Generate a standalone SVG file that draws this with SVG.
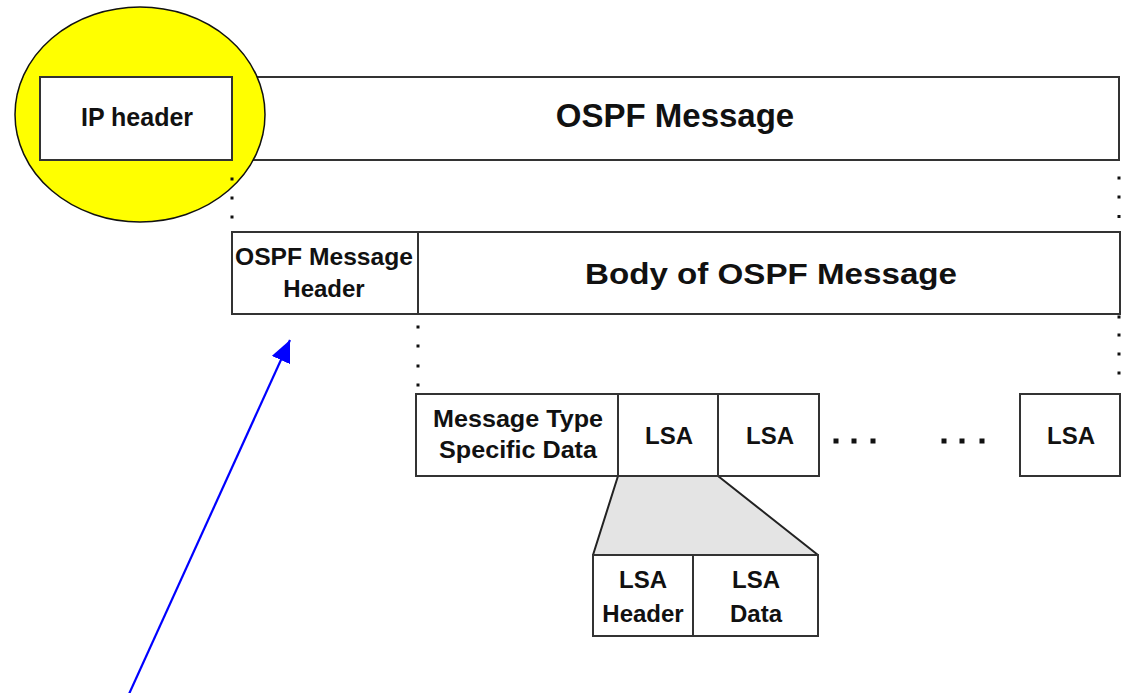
<svg xmlns="http://www.w3.org/2000/svg" width="1122" height="693" viewBox="0 0 1122 693">
  <style>
    .box { fill: #ffffff; stroke: #333333; stroke-width: 2; }
    .lbl { font-family: "Liberation Sans", Arial, sans-serif; font-weight: bold; fill: #111111; text-anchor: middle; }
    .dot { fill: #111111; }
  </style>
  <defs>
    <marker id="arrowhead" viewBox="0 0 22 20" refX="22" refY="10" markerWidth="22" markerHeight="20" markerUnits="userSpaceOnUse" orient="auto">
      <path d="M0,0 L22,10 L0,20 Z" fill="#0000ff"/>
    </marker>
  </defs>
  <rect width="1122" height="693" fill="#ffffff"/>

  <!-- OSPF message (outer packet) -->
  <g id="ospf-message">
    <rect class="box" x="232" y="77" width="887" height="83"/>
    <text class="lbl" x="675" y="127" font-size="33">OSPF Message</text>
  </g>

  <!-- highlight around the IP header -->
  <g id="highlight">
    <ellipse cx="140" cy="114.5" rx="125" ry="107.5" fill="#ffff00" stroke="#111111" stroke-width="1.5"/>
  </g>

  <g id="ip-header">
    <rect class="box" x="40" y="77" width="192" height="83"/>
    <text class="lbl" x="137" y="126" font-size="25">IP header</text>
  </g>

  <!-- second level: header + body -->
  <g id="ospf-header">
    <rect class="box" x="232" y="232" width="186" height="82"/>
    <text class="lbl" x="324" y="265" font-size="24" textLength="178" lengthAdjust="spacingAndGlyphs">OSPF Message</text>
    <text class="lbl" x="324" y="297" font-size="24">Header</text>
  </g>
  <g id="ospf-body">
    <rect class="box" x="418" y="232" width="702" height="82"/>
    <text class="lbl" x="771" y="284" font-size="29" textLength="372" lengthAdjust="spacingAndGlyphs">Body of OSPF Message</text>
  </g>

  <!-- third level: body contents -->
  <g id="type-data">
    <rect class="box" x="416" y="394" width="202" height="82"/>
    <text class="lbl" x="518" y="427" font-size="24" textLength="170" lengthAdjust="spacingAndGlyphs">Message Type</text>
    <text class="lbl" x="518" y="458" font-size="24" textLength="158" lengthAdjust="spacingAndGlyphs">Specific Data</text>
  </g>

  <!-- expansion of the first LSA -->
  <g id="lsa-expansion">
    <polygon points="618,476 718,476 818,555 593,555" fill="#e4e4e4" stroke="#222222" stroke-width="2" stroke-linejoin="round"/>
  </g>

  <g id="lsa-1">
    <rect class="box" x="618" y="394" width="100" height="82"/>
    <text class="lbl" x="669" y="444" font-size="24">LSA</text>
  </g>
  <g id="lsa-2">
    <rect class="box" x="718" y="394" width="101" height="82"/>
    <text class="lbl" x="770" y="444" font-size="24">LSA</text>
  </g>
  <g id="lsa-n">
    <rect class="box" x="1020" y="394" width="100" height="82"/>
    <text class="lbl" x="1071" y="444" font-size="24">LSA</text>
  </g>

  <g id="lsa-header">
    <rect class="box" x="593" y="555" width="100" height="81"/>
    <text class="lbl" x="643" y="588" font-size="24">LSA</text>
    <text class="lbl" x="643" y="622" font-size="24">Header</text>
  </g>
  <g id="lsa-data">
    <rect class="box" x="693" y="555" width="125" height="81"/>
    <text class="lbl" x="756" y="588" font-size="24">LSA</text>
    <text class="lbl" x="756" y="622" font-size="24">Data</text>
  </g>

  <!-- dotted guides and ellipses -->
  <g id="dots">
    <rect class="dot" x="230.5" y="177.5" width="3" height="3"/>
    <rect class="dot" x="230.5" y="196.5" width="3" height="3"/>
    <rect class="dot" x="230.5" y="215.5" width="3" height="3"/>
    <rect class="dot" x="1117.5" y="176.5" width="3" height="3"/>
    <rect class="dot" x="1117.5" y="195.5" width="3" height="3"/>
    <rect class="dot" x="1117.5" y="215" width="3" height="3"/>
    <rect class="dot" x="416.5" y="325.5" width="3" height="3"/>
    <rect class="dot" x="416.5" y="344.5" width="3" height="3"/>
    <rect class="dot" x="416.5" y="364.5" width="3" height="3"/>
    <rect class="dot" x="416.5" y="383.5" width="3" height="3"/>
    <rect class="dot" x="1117.5" y="315.5" width="3" height="3"/>
    <rect class="dot" x="1117.5" y="333.5" width="3" height="3"/>
    <rect class="dot" x="1117.5" y="352.5" width="3" height="3"/>
    <rect class="dot" x="1117.5" y="371.5" width="3" height="3"/>
    <rect class="dot" x="833.5" y="438.5" width="5" height="5"/>
    <rect class="dot" x="851.5" y="438.5" width="5" height="5"/>
    <rect class="dot" x="870.5" y="438.5" width="5" height="5"/>
    <rect class="dot" x="941.5" y="438.5" width="5" height="5"/>
    <rect class="dot" x="959.5" y="438.5" width="5" height="5"/>
    <rect class="dot" x="979.5" y="438.5" width="5" height="5"/>
  </g>

  <!-- pointer to the OSPF message header -->
  <g id="connectors">
    <line x1="129" y1="694" x2="290" y2="340" stroke="#0000ff" stroke-width="2.2" marker-end="url(#arrowhead)"/>
  </g>
</svg>
